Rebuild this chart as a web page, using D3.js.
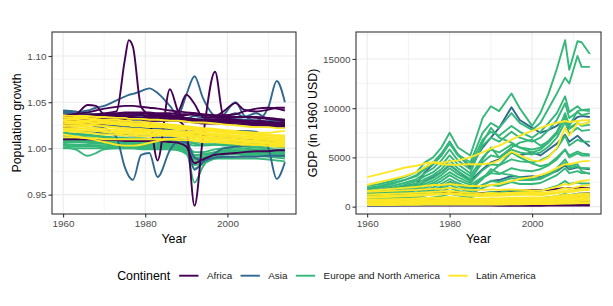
<!DOCTYPE html>
<html>
<head>
<meta charset="utf-8">
<script src="https://cdn.jsdelivr.net/npm/d3@7"></script>
<style>
  body { margin: 0; background: #fff; }
</style>
</head>
<body>
<svg id="chart" width="613" height="306"></svg>
<script>
var FONT = "'Liberation Sans', Arial, Helvetica, sans-serif";

var continents = ["Africa", "Asia", "Europe and North America", "Latin America"];
var colors = ["#440154", "#31688E", "#35B779", "#FDE725"];

// population growth, one row per country, values at popYears
var popYears = [1960, 1963, 1966, 1968, 1970, 1973, 1975, 1976, 1977, 1979, 1981, 1983, 1986,
  1988, 1990, 1992, 1994, 1997, 1999, 2002, 2004, 2007, 2010, 2012, 2014];

var popAfrica = [
  [1.032,1.034,1.036,1.037,1.038, 1.040,1.095,1.117,1.110,1.045, 1.037,1.036,1.035,1.034,1.033, 1.032,1.031,1.030,1.030,1.029, 1.028,1.028,1.027,1.026,1.026],
  [1.036,1.037,1.047,1.046,1.037, 1.038,1.039,1.039,1.039,1.039, 1.039,1.038,1.038,1.037,1.037, 1.036,1.036,1.035,1.035,1.034, 1.034,1.033,1.032,1.031,1.030],
  [1.035,1.037,1.039,1.041,1.043, 1.045,1.046,1.046,1.046,1.045, 1.044,1.043,1.041,1.040,1.039, 1.038,1.037,1.036,1.036,1.037, 1.040,1.043,1.044,1.043,1.041],
  [1.030,1.031,1.032,1.033,1.033, 1.034,1.035,1.035,1.035,1.036, 1.030,0.987,1.064,1.040,1.032, 1.030,1.030,1.031,1.031,1.031, 1.030,1.030,1.029,1.028,1.028],
  [1.026,1.027,1.028,1.029,1.030, 1.031,1.031,1.032,1.032,1.032, 1.033,1.033,1.032,1.030,1.020, 0.938,1.010,1.083,1.035,1.030, 1.028,1.027,1.026,1.025,1.025],
  [1.034,1.035,1.036,1.036,1.037, 1.037,1.038,1.038,1.038,1.038, 1.038,1.037,1.037,1.040,1.058, 1.048,1.034,1.033,1.033,1.034, 1.034,1.034,1.033,1.032,1.031],
  [1.030,1.031,1.032,1.033,1.034, 1.035,1.036,1.036,1.036,1.036, 1.036,1.036,1.035,1.035,1.036, 1.038,1.036,1.035,1.040,1.049, 1.042,1.040,1.042,1.044,1.044],
  [1.027,1.028,1.029,1.030,1.031, 1.032,1.032,1.033,1.033,1.033, 1.033,1.033,1.032,1.032,1.031, 1.031,1.030,1.030,1.029,1.029, 1.028,1.027,1.027,1.026,1.025],
  [1.023,1.024,1.025,1.026,1.027, 1.028,1.028,1.029,1.029,1.029, 1.030,1.030,1.030,1.030,1.029, 1.028,1.027,1.027,1.027,1.026, 1.026,1.025,1.025,1.024,1.024],
  [1.033,1.034,1.034,1.035,1.035, 1.036,1.036,1.036,1.036,1.036, 1.035,1.035,1.034,1.033,1.032, 1.031,1.030,1.029,1.029,1.028, 1.028,1.027,1.027,1.026,1.026],
  [1.010,1.010,1.010,1.009,1.009, 1.009,1.008,1.008,1.008,1.008, 1.008,1.008,1.007,1.006,1.002, 0.984,0.988,0.993,0.994,0.995, 0.996,0.997,0.997,0.998,0.998]
];

var popAsia = [
  [1.038,1.039,1.041,1.044,1.046, 1.052,1.056,1.058,1.059,1.062, 1.065,1.060,1.046,1.036,1.058, 1.078,1.055,1.035,1.033,1.032, 1.031,1.030,1.029,1.028,1.027],
  [1.030,1.028,1.026,1.024,1.022, 1.012,0.980,0.970,0.966,0.993, 0.995,0.969,0.998,1.008,1.006, 0.977,0.985,0.995,1.000,1.002, 1.003,1.004,1.004,1.004,1.004],
  [1.040,1.038,1.036,1.035,1.034, 1.033,1.033,1.032,1.032,1.032, 1.032,1.031,1.031,1.031,1.030, 1.030,1.030,1.031,1.036,1.050, 1.036,1.030,1.045,1.073,1.050],
  [1.028,1.027,1.026,1.026,1.025, 1.024,1.024,1.023,1.023,1.023, 1.022,1.022,1.022,1.021,1.021, 1.020,1.020,1.020,1.019,1.019, 1.019,1.018,1.000,0.967,0.985],
  [1.041,1.040,1.038,1.037,1.036, 1.035,1.035,1.034,1.034,1.034, 1.034,1.033,1.033,1.032,1.032, 1.031,1.031,1.031,1.030,1.030, 1.029,1.028,1.027,1.026,1.025],
  [1.038,1.038,1.037,1.036,1.036, 1.035,1.034,1.034,1.034,1.033, 1.033,1.032,1.032,1.031,1.031, 1.030,1.029,1.028,1.028,1.027, 1.026,1.025,1.024,1.023,1.022],
  [1.028,1.027,1.027,1.026,1.025, 1.024,1.024,1.023,1.023,1.022, 1.022,1.021,1.020,1.019,1.018, 1.016,1.015,1.014,1.013,1.012, 1.011,1.010,1.010,1.009,1.009],
  [1.020,1.019,1.018,1.017,1.016, 1.015,1.015,1.014,1.014,1.013, 1.013,1.012,1.012,1.011,1.008, 0.990,0.987,0.990,0.991,0.991, 0.991,0.991,0.992,0.992,0.992],
  [1.034,1.034,1.033,1.033,1.032, 1.032,1.031,1.031,1.031,1.031, 1.030,1.030,1.030,1.030,1.032, 1.035,1.033,1.031,1.033,1.038, 1.034,1.038,1.031,1.030,1.029]
];

var popEurope = [
  [1.017,1.016,1.015,1.014,1.013, 1.012,1.012,1.011,1.011,1.011, 1.010,1.010,1.009,1.009,1.008, 1.007,1.006,1.006,1.006,1.007, 1.007,1.008,1.008,1.008,1.007],
  [1.014,1.013,1.012,1.011,1.010, 1.009,1.009,1.008,1.008,1.008, 1.008,1.007,1.007,1.006,1.005, 1.003,1.003,1.004,1.004,1.005, 1.005,1.006,1.005,1.005,1.005],
  [1.011,1.011,1.010,1.009,1.008, 1.007,1.007,1.006,1.006,1.006, 1.006,1.005,1.005,1.005,1.003, 0.996,0.996,0.999,1.000,1.001, 1.002,1.003,1.003,1.002,1.002],
  [1.009,1.009,1.008,1.007,1.006, 1.006,1.005,1.005,1.005,1.005, 1.004,1.004,1.004,1.003,1.000, 0.985,0.990,0.996,0.998,0.999, 1.000,1.001,1.000,0.999,0.999],
  [1.007,1.007,1.006,1.005,1.005, 1.004,1.004,1.004,1.003,1.003, 1.003,1.003,1.003,1.002,0.998, 0.963,0.980,0.994,0.996,0.997, 0.998,0.999,0.998,0.997,0.997],
  [1.005,1.004,1.004,1.003,1.003, 1.003,1.003,1.002,1.002,1.002, 1.002,1.002,1.002,1.001,0.997, 0.982,0.985,0.991,0.993,0.994, 0.995,0.996,0.995,0.994,0.993],
  [1.003,1.002,1.002,1.002,1.001, 1.001,1.001,1.001,1.001,1.001, 1.001,1.001,1.001,1.000,0.995, 0.978,0.983,0.989,0.990,0.991, 0.992,0.992,0.991,0.990,0.989],
  [1.001,0.999,0.992,0.995,0.999, 1.000,1.000,1.000,1.000,1.000, 1.000,1.000,0.999,0.998,0.994, 0.986,0.988,0.989,0.989,0.989, 0.989,0.989,0.988,0.987,0.986],
  [1.015,1.015,1.014,1.013,1.012, 1.011,1.010,1.010,1.010,1.009, 1.009,1.008,1.008,1.008,1.007, 1.005,1.004,1.004,1.003,1.003, 1.003,1.003,1.002,1.002,1.001],
  [1.012,1.011,1.010,1.009,1.009, 1.008,1.008,1.007,1.007,1.007, 1.007,1.006,1.006,1.006,1.004, 0.992,0.993,0.996,0.997,0.998, 0.997,0.996,0.995,0.994,0.994],
  [1.008,1.008,1.007,1.006,1.006, 1.005,1.005,1.005,1.004,1.004, 1.004,1.004,1.004,1.004,1.001, 0.988,0.990,0.993,0.995,0.996, 0.996,0.995,0.994,0.993,0.992],
  [1.004,1.004,1.003,1.003,1.003, 1.002,1.002,1.002,1.002,1.002, 1.002,1.002,1.001,1.001,0.999, 0.990,0.991,0.993,0.994,0.994, 0.994,0.994,0.993,0.992,0.991],
  [1.000,1.000,1.000,1.000,1.000, 1.000,1.000,1.000,1.000,0.999, 0.999,0.999,0.999,0.999,0.998, 0.993,0.994,0.995,0.996,0.996, 0.997,0.997,0.996,0.996,0.995]
];

var popLatin = [
  [1.036,1.035,1.035,1.034,1.034, 1.033,1.033,1.032,1.032,1.032, 1.031,1.031,1.030,1.030,1.029, 1.028,1.028,1.027,1.026,1.025, 1.024,1.023,1.023,1.022,1.022],
  [1.033,1.033,1.032,1.031,1.030, 1.029,1.028,1.028,1.027,1.027, 1.026,1.026,1.025,1.024,1.023, 1.022,1.021,1.020,1.019,1.018, 1.017,1.016,1.015,1.014,1.014],
  [1.031,1.031,1.030,1.030,1.029, 1.028,1.027,1.026,1.026,1.025, 1.025,1.024,1.024,1.023,1.022, 1.021,1.020,1.019,1.018,1.017, 1.016,1.015,1.014,1.013,1.012],
  [1.029,1.028,1.028,1.027,1.027, 1.026,1.025,1.025,1.024,1.024, 1.023,1.023,1.022,1.021,1.021, 1.020,1.019,1.018,1.017,1.016, 1.015,1.013,1.012,1.011,1.011],
  [1.027,1.027,1.026,1.025,1.024, 1.022,1.021,1.021,1.020,1.020, 1.020,1.019,1.019,1.018,1.018, 1.017,1.016,1.015,1.014,1.013, 1.012,1.011,1.010,1.009,1.009],
  [1.025,1.024,1.023,1.022,1.021, 1.020,1.019,1.019,1.018,1.018, 1.018,1.018,1.017,1.017,1.016, 1.016,1.015,1.014,1.013,1.012, 1.011,1.010,1.009,1.008,1.008],
  [1.022,1.022,1.021,1.020,1.019, 1.018,1.018,1.017,1.017,1.017, 1.016,1.016,1.016,1.015,1.015, 1.014,1.013,1.012,1.011,1.010, 1.009,1.008,1.007,1.006,1.006],
  [1.019,1.018,1.017,1.016,1.015, 1.015,1.014,1.014,1.014,1.013, 1.013,1.014,1.014,1.013,1.013, 1.012,1.011,1.010,1.009,1.008, 1.007,1.006,1.005,1.004,1.004],
  [1.015,1.013,1.011,1.009,1.007, 1.004,1.003,1.003,1.003,1.004, 1.006,1.008,1.010,1.011,1.011, 1.010,1.009,1.008,1.007,1.006, 1.005,1.004,1.003,1.002,1.002],
  [1.012,1.012,1.011,1.011,1.010, 1.010,1.010,1.010,1.010,1.010, 1.010,1.010,1.010,1.009,1.009, 1.008,1.007,1.007,1.006,1.005, 1.004,1.004,1.003,1.003,1.003],
  [1.034,1.033,1.033,1.032,1.031, 1.031,1.030,1.030,1.029,1.029, 1.028,1.027,1.026,1.025,1.024, 1.023,1.022,1.021,1.020,1.019, 1.018,1.017,1.017,1.018,1.019],
  [1.024,1.025,1.025,1.025,1.024, 1.023,1.022,1.022,1.021,1.021, 1.020,1.020,1.019,1.019,1.018, 1.018,1.017,1.016,1.015,1.014, 1.013,1.012,1.011,1.010,1.010],
  [1.030,1.029,1.029,1.028,1.028, 1.027,1.026,1.026,1.025,1.025, 1.024,1.024,1.023,1.023,1.022, 1.021,1.020,1.019,1.018,1.017, 1.016,1.015,1.014,1.014,1.013],
  [1.020,1.020,1.019,1.019,1.018, 1.017,1.016,1.016,1.016,1.015, 1.015,1.015,1.015,1.014,1.014, 1.013,1.012,1.011,1.010,1.009, 1.008,1.007,1.006,1.005,1.005]
];

// GDP per country (1960 USD), values at gdpYears
var gdpYears = [1960, 1963, 1966, 1969, 1972, 1974, 1976, 1978, 1980, 1982, 1985, 1988, 1990,
  1992, 1995, 1997, 2000, 2002, 2004, 2006, 2008, 2009, 2011, 2012, 2014];

var gdpAfrica = [
  [700,800,900,1000,1150, 1300,1400,1450,1500,1400, 1300,1400,1450,1500,1600, 1650,1700,1650,1700,1800, 1900,1850,1900,1900,1900],
  [300,320,340,360,380, 400,420,440,460,450, 430,420,410,400,400, 410,420,440,460,490, 520,530,550,560,580],
  [100,100,100,100,100, 110,110,110,110,110, 100,100,100,90,90, 90,90,90,100,100, 110,110,120,120,120],
  [500,520,550,580,620, 680,720,760,800,760, 700,680,660,650,660, 680,700,720,780,850, 950,930,1000,1020,1050],
  [200,210,220,230,240, 250,260,260,270,260, 250,240,230,230,240, 250,260,270,290,310, 340,350,370,380,400],
  [150,155,160,170,180, 190,200,210,220,210, 200,190,180,170,170, 175,180,190,200,220, 240,250,270,280,290]
];

var gdpAsia = [
  [1500,1700,1900,2100,2300, 3500,4300,5200,6600,5300, 4000,6000,7000,8000,10100, 8800,8000,7500,7800,8200, 9000,8400,9100,9200,9100],
  [1200,1300,1450,1600,1900, 2600,3000,3500,4200,3600, 2600,3800,4500,4800,5500, 5200,5500,5200,5800,6400, 7300,6600,7200,6800,6100],
  [800,850,950,1050,1200, 1500,1700,2000,2500,2200, 1700,2200,2600,2700,3100, 3000,3100,3000,3300,3600, 4200,3800,4000,3900,3800],
  [200,220,250,280,320, 360,400,450,500,480, 450,500,550,600,700, 700,750,800,900,1000, 1200,1150,1300,1350,1400],
  [100,110,120,130,140, 150,160,170,180,180, 180,190,200,210,230, 240,250,260,280,300, 330,340,360,370,380]
];

var gdpEurope = [
  [2100,2300,2600,3000,3500, 4500,5000,6000,7500,6000, 5200,9000,10200,9700,11500, 10000,8200,9500,11500,14000, 16900,13900,16800,16700,15500],
  [1900,2100,2400,2700,3200, 4000,4500,5400,6600,5300, 4500,7500,8500,8000,9500, 8500,7800,8500,10000,11500, 13100,12500,15300,14200,14200],
  [1800,2000,2300,2700,3100, 3800,4300,5200,6400,5200, 4200,6800,7600,7200,8200, 7600,7000,7600,8500,9500, 11200,9600,10200,9800,9900],
  [1700,1900,2100,2400,2800, 3400,3900,4700,5800,4700, 3800,6200,7000,6600,7600, 7000,6600,7000,7800,8800, 10500,9000,9600,9300,9500],
  [1500,1700,1900,2200,2600, 3100,3500,4200,5200,4300, 3400,6500,8000,7000,6500, 6000,5500,5800,6500,7500, 9000,8000,8500,8300,8600],
  [1400,1550,1750,2000,2350, 2800,3200,3800,4700,3900, 3100,5000,5800,5500,6300, 6000,5800,6000,6700,7600, 9200,7900,8500,8200,8300],
  [1300,1450,1600,1850,2150, 2550,2900,3500,4300,3600, 2800,4500,5200,5000,5800, 5500,5300,5500,6100,7000, 8600,7400,8000,7700,7800],
  [1200,1300,1450,1700,1950, 2300,2650,3200,3900,3300, 2600,4800,6000,5000,6000, 6500,6800,6200,6600,7400, 9500,8200,9700,9800,9700],
  [1100,1200,1350,1550,1800, 2100,2400,2900,3500,3000, 2400,3700,4300,4200,4800, 4600,4500,4700,5100,5900, 7200,6200,6800,6600,6600],
  [1000,1100,1250,1400,1650, 1900,2200,2600,3200,2700, 2200,3000,3500,4200,5500, 5000,4400,4100,4300,5000, 5800,5200,5600,5400,5300],
  [900,1000,1100,1250,1450, 1700,1950,2300,2800,2400, 1900,2900,3400,3300,3900, 3700,3600,3800,4200,4800, 5800,5000,5400,5200,5200],
  [800,880,970,1100,1280, 1500,1700,2000,2500,2100, 1700,2800,3800,3400,3200, 3000,2800,2900,3300,3900, 4800,4100,4300,3600,3300],
  [700,770,850,960,1100, 1300,1500,1750,2200,1850, 1500,2200,2600,2500,2900, 2700,2700,2800,3200,3700, 4500,3900,4100,3900,3900],
  [600,660,730,820,950, 1120,1300,1500,1900,1600, 1300,1900,2200,2100,2500, 2300,2300,2400,2800,3200, 3900,3400,3600,3400,3400],
  [300,320,350,390,440, 500,560,640,750,680, 600,700,800,780,850, 820,800,850,950,1050, 1300,1150,1250,1200,1200],
  [500,540,580,640,720, 820,930,1070,1300,1150, 950,1300,1500,1450,1650, 1550,1550,1600,1850,2100, 2600,2300,2450,2350,2350]
];

var gdpLatin = [
  [3000,3300,3600,3950,4150, 4400,4500,4450,4600,4700, 5000,5500,5900,6200,6800, 7200,7700,8000,8300,8500, 8700,8600,8700,8750,8800],
  [2200,2500,2800,3100,3500, 4000,4500,4300,4250,4250, 4300,4300,4400,4700,5600, 5200,4700,4600,5000,6000, 8000,7200,8500,8300,8600],
  [1600,1700,1800,1900,2000, 2100,2200,2200,2300,2200, 2100,2100,2200,2300,2600, 2800,3000,3200,3500,3900, 4300,4300,4500,4600,4650],
  [1500,1550,1600,1650,1700, 1750,1800,1800,1900,1800, 1700,1700,1750,1700,1750, 1700,1650,1600,1800,2000, 2300,2200,2500,2600,2700],
  [1200,1250,1300,1350,1400, 1450,1500,1550,1600,1500, 1400,1350,1400,1350,1400, 1450,1500,1400,1500,1650, 1900,1800,2000,2100,2200],
  [900,950,1000,1050,1100, 1150,1200,1250,1300,1200, 1100,1050,1100,1100,1150, 1200,1200,1150,1250,1350, 1500,1450,1600,1650,1700],
  [700,720,750,780,820, 860,900,930,980,900, 820,800,820,830,870, 900,920,900,960,1050, 1200,1150,1250,1300,1350],
  [500,520,540,560,600, 630,660,690,720,680, 620,600,610,620,650, 680,700,690,730,800, 900,870,950,980,1000],
  [350,360,380,400,420, 440,460,480,500,480, 440,430,440,450,470, 490,510,500,530,580, 650,630,680,700,720],
  [200,210,220,230,240, 250,260,270,290,280, 260,250,260,270,280, 290,300,300,320,350, 390,380,410,420,430],
  [150,160,170,180,190, 200,210,220,230,220, 210,200,210,220,230, 240,250,250,270,290, 320,310,340,350,360],
  [600,620,650,680,720, 760,800,830,870,820, 750,720,730,740,770, 800,820,800,850,930, 1050,1000,1100,1150,1180],
  [400,420,440,470,500, 530,560,590,620,580, 530,520,530,540,560, 580,600,590,630,690, 780,750,820,840,860],
  [1000,1050,1100,1150,1200, 1250,1300,1350,1400,1300, 1200,1150,1200,1200,1250, 1300,1300,1250,1350,1450, 1650,1600,1750,1800,1850],
  [250,260,280,300,320, 340,360,380,400,380, 350,340,350,360,380, 400,410,400,430,470, 530,510,560,580,600]
];

var yearTicks = [1960, 1980, 2000];
var popTicks = [0.95, 1.00, 1.05, 1.10];
var gdpTicks = [0, 5000, 10000, 15000];

var svg = d3.select("#chart");

function expand(ext) {
  var p = (ext[1] - ext[0]) * 0.05;
  return [ext[0] - p, ext[1] + p];
}

function minorOf(ticks, domain) {
  var step = ticks[1] - ticks[0];
  var out = [];
  for (var v = ticks[0] - step / 2; v <= ticks[ticks.length - 1] + step; v += step) {
    if (v >= domain[0] && v <= domain[1]) out.push(v);
  }
  return out;
}

function drawPanel(o) {
  var g = svg.append("g");
  var all = d3.merge(o.groups.map(function (d) { return d3.merge(d.series); }));
  var x = d3.scaleLinear().domain(expand(d3.extent(o.years))).range([o.left, o.right]);
  var y = d3.scaleLinear().domain(expand(d3.extent(all))).range([o.bottom, o.top]);

  // grid
  var grid = g.append("g").attr("stroke", "#EBEBEB");
  grid.selectAll(".xmin").data(minorOf(yearTicks, x.domain())).enter().append("line")
    .attr("x1", x).attr("x2", x).attr("y1", o.top).attr("y2", o.bottom).attr("stroke-width", 0.55);
  grid.selectAll(".ymin").data(minorOf(o.yTicks, y.domain())).enter().append("line")
    .attr("y1", y).attr("y2", y).attr("x1", o.left).attr("x2", o.right).attr("stroke-width", 0.55);
  grid.selectAll(".xmaj").data(yearTicks).enter().append("line")
    .attr("x1", x).attr("x2", x).attr("y1", o.top).attr("y2", o.bottom).attr("stroke-width", 1.1);
  grid.selectAll(".ymaj").data(o.yTicks).enter().append("line")
    .attr("y1", y).attr("y2", y).attr("x1", o.left).attr("x2", o.right).attr("stroke-width", 1.1);

  var line = d3.line()
    .x(function (d, i) { return x(o.years[i]); })
    .y(function (d) { return y(d); })
    .curve(o.curve);

  o.groups.forEach(function (grp) {
    g.append("g").selectAll("path").data(grp.series).enter().append("path")
      .attr("d", line)
      .attr("fill", "none")
      .attr("stroke", grp.color)
      .attr("stroke-width", 1.9)
      .attr("stroke-linejoin", "round");
  });

  g.append("rect")
    .attr("x", o.left).attr("y", o.top)
    .attr("width", o.right - o.left).attr("height", o.bottom - o.top)
    .attr("fill", "none").attr("stroke", "#333333").attr("stroke-width", 1.1);

  var xa = g.append("g").attr("transform", "translate(0," + o.bottom + ")")
    .call(d3.axisBottom(x).tickValues(yearTicks).tickFormat(d3.format("d")).tickSize(3.5).tickPadding(2));
  var ya = g.append("g").attr("transform", "translate(" + o.left + ",0)")
    .call(d3.axisLeft(y).tickValues(o.yTicks).tickFormat(o.format).tickSize(3.5).tickPadding(2));
  [xa, ya].forEach(function (a) {
    a.select(".domain").remove();
    a.attr("font-family", FONT).attr("font-size", 9.9);
    a.selectAll("line").attr("stroke", "#333333").attr("stroke-width", 1.1);
    a.selectAll("text").attr("fill", "#4D4D4D");
  });

  g.append("text")
    .attr("x", (o.left + o.right) / 2).attr("y", 242.7)
    .attr("text-anchor", "middle")
    .attr("font-family", FONT).attr("font-size", 12.4)
    .text("Year");

  g.append("text")
    .attr("transform", "translate(" + o.titleX + "," + ((o.top + o.bottom) / 2) + ") rotate(-90)")
    .attr("text-anchor", "middle")
    .attr("font-family", FONT).attr("font-size", 12.4)
    .text(o.yTitle);
}

drawPanel({
  left: 52, right: 296, top: 32, bottom: 214, titleX: 21,
  years: popYears, yTicks: popTicks, format: d3.format(".2f"),
  yTitle: "Population growth", curve: d3.curveMonotoneX,
  groups: [
    { series: popEurope, color: colors[2] },
    { series: popAsia, color: colors[1] },
    { series: popAfrica, color: colors[0] },
    { series: popLatin, color: colors[3] }
  ]
});

drawPanel({
  left: 356, right: 601, top: 32, bottom: 214, titleX: 317,
  years: gdpYears, yTicks: gdpTicks, format: d3.format("d"),
  yTitle: "GDP (in 1960 USD)", curve: d3.curveLinear,
  groups: [
    { series: gdpAfrica, color: colors[0] },
    { series: gdpAsia, color: colors[1] },
    { series: gdpEurope, color: colors[2] },
    { series: gdpLatin, color: colors[3] }
  ]
});

// legend
var legend = svg.append("g");
var ly = 275.7;
var title = legend.append("text")
  .attr("y", ly + 4.3)
  .attr("font-family", FONT).attr("font-size", 12.4)
  .text("Continent");
var cx = title.node().getComputedTextLength() + 9;
continents.forEach(function (name, i) {
  legend.append("line")
    .attr("x1", cx).attr("x2", cx + 19.3)
    .attr("y1", ly).attr("y2", ly)
    .attr("stroke", colors[i]).attr("stroke-width", 1.9);
  var t = legend.append("text")
    .attr("x", cx + 27.7).attr("y", ly + 3.4)
    .attr("font-family", FONT).attr("font-size", 9.9)
    .attr("fill", "#1A1A1A")
    .text(name);
  cx += 27.7 + t.node().getComputedTextLength() + 8.4;
});
var lw = cx - 8.4;
legend.attr("transform", "translate(" + (326.5 - lw / 2) + ",0)");
</script>
</body>
</html>
